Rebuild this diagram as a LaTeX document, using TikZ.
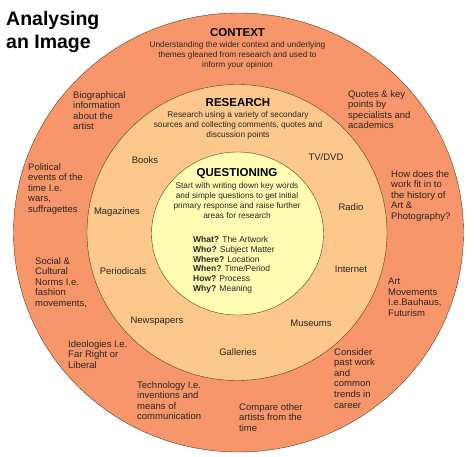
\documentclass[tikz,border=0pt]{standalone}
\usepackage{fontspec}
\setmainfont{Liberation Sans}
\definecolor{ctxorange}{HTML}{F7966A}
\definecolor{resorange}{HTML}{FCC88C}
\definecolor{qyellow}{HTML}{FFFDB4}
\definecolor{rim}{HTML}{5B3A1E}
\definecolor{ink}{HTML}{2B2520}
\begin{document}
\begin{tikzpicture}[x=1pt, y=-1pt,
    note/.style={anchor=north west, inner sep=0pt, align=left, text=ink,
      font=\fontsize{9.5}{10.6}\selectfont},
    item/.style={inner sep=0pt, text=ink, font=\fontsize{9.5}{11}\selectfont},
    head/.style={inner sep=0pt, text=black, font=\fontsize{11.5}{13}\selectfont\bfseries},
    blurb/.style={anchor=north, inner sep=0pt, align=center, text=ink,
      font=\fontsize{8.3}{9.9}\selectfont}]
  \useasboundingbox (0,0) rectangle (474,457);
  % rings
  \draw[rim, fill=ctxorange] (238.5,232.5) ellipse (225pt and 219.5pt);
  \draw[rim, fill=resorange] (237,232.5) ellipse (150pt and 148pt);
  \draw[rim, fill=qyellow] (237.5,233.5) ellipse (86pt and 81.5pt);
  % title
  \node[anchor=north west, inner sep=0pt, align=left,
    font=\fontsize{19.5}{23}\selectfont\bfseries] (title) at (6,11) {Analysing\\an Image};
  % context ring
  \node[head] (context) at (237.5,33) {CONTEXT};
  \node[blurb] (contextText) at (237.5,41.5) {Understanding the wider context and underlying\\themes gleaned from research and used to\\inform your opinion};
  \node[note] (bio) at (73,91) {Biographical\\information\\about the\\artist};
  \node[note] (politics) at (28,163) {Political\\events of the\\time I.e.\\wars,\\suffragettes};
  \node[note] (norms) at (35,257) {Social \&\\Cultural\\Norms I.e.\\fashion\\movements,};
  \node[note] (ideology) at (68,340) {Ideologies I.e.\\Far Right or\\Liberal};
  \node[note] (tech) at (137,381) {Technology I.e.\\inventions and\\means of\\communication};
  \node[note] (compare) at (239,403) {Compare other\\artists from the\\time};
  \node[note] (pastwork) at (334,348) {Consider\\past work\\and\\common\\trends in\\career};
  \node[note] (movements) at (388,278) {Art\\Movements\\I.e.Bauhaus,\\Futurism};
  \node[note] (history) at (391,170) {How does the\\work fit in to\\the history of\\Art \&\\Photography?};
  \node[note] (quotes) at (348,90) {Quotes \& key\\points by\\specialists and\\academics};
  % research ring
  \node[head] (research) at (238,103) {RESEARCH};
  \node[blurb] (researchText) at (238,111) {Research using a variety of secondary\\sources and collecting comments, quotes and\\discussion points};
  \node[item] (books) at (145,160) {Books};
  \node[item] (tv) at (326,157) {TV/DVD};
  \node[item] (magazines) at (117,212) {Magazines};
  \node[item] (radio) at (351,207) {Radio};
  \node[item] (periodicals) at (123,271) {Periodicals};
  \node[item] (internet) at (351,269) {Internet};
  \node[item] (newspapers) at (157,321) {Newspapers};
  \node[item] (museums) at (311,323) {Museums};
  \node[item] (galleries) at (238,352) {Galleries};
  % questioning core
  \node[head] (questioning) at (237,174) {QUESTIONING};
  \node[blurb] (questioningText) at (237,182.5) {Start with writing down key words\\and simple questions to get initial\\primary response and raise further\\areas for research};
  \node[anchor=north west, inner sep=0pt, align=left, text=ink,
    font=\fontsize{8.5}{9.7}\selectfont] (questions) at (193,236.5)
    {\textbf{What?} The Artwork\\\textbf{Who?} Subject Matter\\\textbf{Where?} Location\\\textbf{When?} Time/Period\\\textbf{How?} Process\\\textbf{Why?} Meaning};
\end{tikzpicture}
\end{document}
